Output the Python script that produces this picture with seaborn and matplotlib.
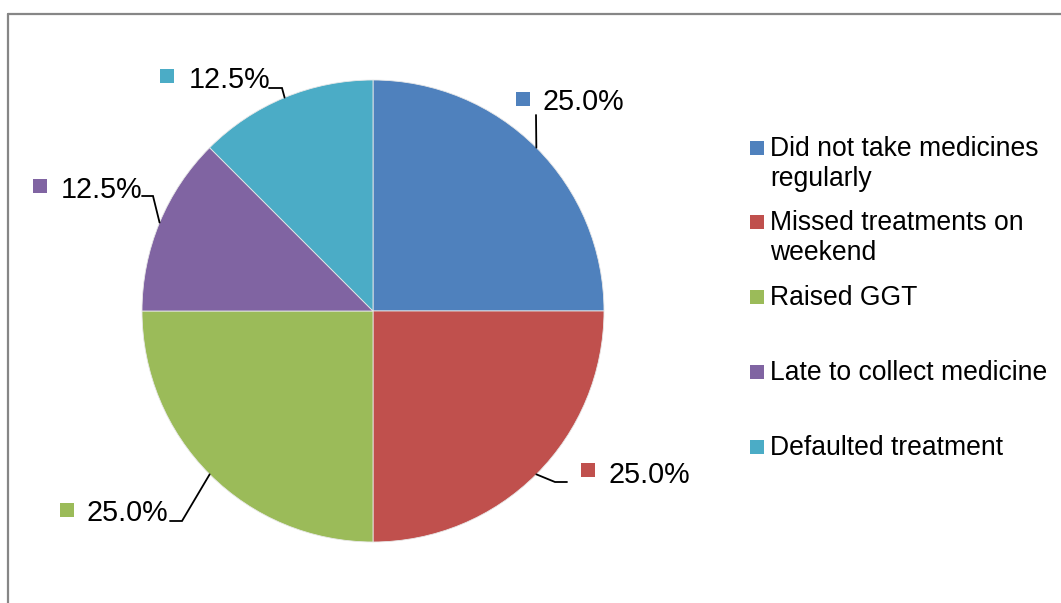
import matplotlib
matplotlib.use("Agg")
import matplotlib.pyplot as plt
from matplotlib.patches import Rectangle
from matplotlib.lines import Line2D
import numpy as np
import seaborn as sns

# Reasons for treatment problems and their shares (%)
categories = [
    "Did not take medicines\nregularly",
    "Missed treatments on\nweekend",
    "Raised GGT",
    "Late to collect medicine",
    "Defaulted treatment",
]
shares = [25.0, 25.0, 25.0, 12.5, 12.5]
slice_colors = ["#4F81BD", "#C0504D", "#9BBB59", "#8064A2", "#4BACC6"]

sns.set_theme(style="white")
plt.rcParams["font.family"] = ["Liberation Sans", "DejaVu Sans"]

W, H = 1061, 603
CX, CY, R = 373, 311, 231  # pie centre and radius in pixels

fig = plt.figure(figsize=(W / 100, H / 100), dpi=100)
ax = fig.add_axes([0, 0, 1, 1])
ax.axis("off")


def px(x, y):
    """Pixel position (origin top-left) to data coordinates."""
    return (x - CX) / R, (CY - y) / R


palette = sns.color_palette(slice_colors)
wedges, _ = ax.pie(
    shares,
    colors=palette,
    startangle=90,
    counterclock=False,
    radius=1.0,
    center=(0, 0),
    wedgeprops=dict(edgecolor="#e8e8e8", linewidth=0.6),
)
ax.set_xlim(-CX / R, (W - CX) / R)
ax.set_ylim(-(H - CY) / R, CY / R)
ax.set_aspect("auto")

# Data label layout: key square centre, text left / baseline, leader path
label_layout = [
    dict(sq=(523, 99), txt=(543, 110), path=[(536, 115)]),
    dict(sq=(588, 470), txt=(608, 483), path=[(555, 482), (567, 482)]),
    dict(sq=(67, 510), txt=(87, 521), path=[(182, 521), (170, 521)]),
    dict(sq=(40, 186), txt=(61, 198), path=[(153, 196), (142, 196)]),
    dict(sq=(167, 76), txt=(189, 88), path=[(282, 88), (269, 88)]),
]

SQ = 14.5 / R
for w, val, col, lay in zip(wedges, shares, palette, label_layout):
    mid = np.deg2rad((w.theta1 + w.theta2) / 2)
    edge = (w.r * np.cos(mid), w.r * np.sin(mid))
    pts = [edge] + [px(*p) for p in lay["path"]]
    ax.plot([p[0] for p in pts], [p[1] for p in pts], color="black", lw=1.3,
            solid_joinstyle="miter")
    sx, sy = px(*lay["sq"])
    ax.add_patch(Rectangle((sx - SQ / 2, sy - SQ / 2), SQ, SQ, color=col, lw=0))
    tx, ty = px(*lay["txt"])
    ax.text(tx, ty, f"{val:.1f}%", fontsize=20.7, ha="left", va="baseline", color="black")

# Legend on the right
legend_rows = [148, 222, 297, 372, 447]  # key square centres (px)
LINE_H = 30
for cat, col, yc in zip(categories, palette, legend_rows):
    sx, sy = px(757, yc)
    ax.add_patch(Rectangle((sx - SQ / 2, sy - SQ / 2), SQ, SQ, color=col, lw=0))
    for i, line in enumerate(cat.split("\n")):
        tx, ty = px(770, yc + 8 + i * LINE_H)
        ax.text(tx, ty, line, fontsize=19.1, ha="left", va="baseline", color="black")

# Chart area frame (top and left edges visible)
frame_kw = dict(color="#868686", lw=1.6, transform=fig.transFigure)
fig.add_artist(Line2D([8.3 / W, 8.3 / W], [0, 1 - 14.3 / H], **frame_kw))
fig.add_artist(Line2D([8.3 / W, 1], [1 - 14.3 / H, 1 - 14.3 / H], **frame_kw))

fig.savefig("out.png", dpi=100, facecolor="white")
